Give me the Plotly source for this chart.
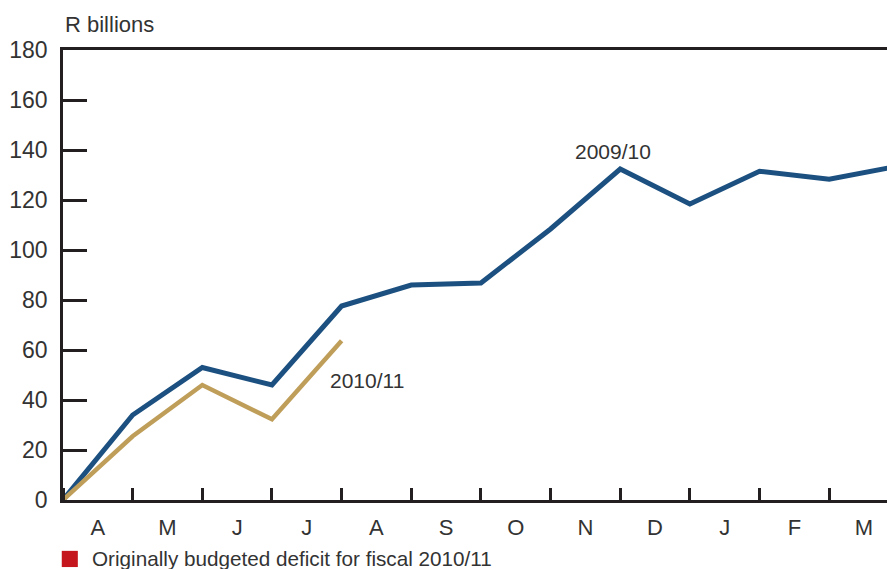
import plotly.graph_objects as go

MONTHS = ["A", "M", "J", "J", "A", "S", "O", "N", "D", "J", "F", "M"]
POSITIONS = list(range(13))
DEFICIT_2009 = [0, 34, 53, 46, 77.6, 86, 86.8, 108.4, 132.4, 118.4, 131.5, 128.3, 133.6]
DEFICIT_2010 = [0, 25.5, 46, 32.3, 63.7]
Y_TICKS = [0, 20, 40, 60, 80, 100, 120, 140, 160, 180]
LEGEND_LABEL = "Originally budgeted deficit for fiscal 2010/11"

BLUE = "#1c5080"
GOLD = "#bf9e5a"
RED = "#c4161c"
INK = "#231f20"
TEXT = "#333333"
FONT = "Liberation Sans"

fig = go.Figure()
fig.add_trace(
    go.Scatter(
        x=POSITIONS,
        y=DEFICIT_2009,
        mode="lines",
        line=dict(color=BLUE, width=5),
        showlegend=False,
    )
)
fig.add_trace(
    go.Scatter(
        x=POSITIONS[: len(DEFICIT_2010)],
        y=DEFICIT_2010,
        mode="lines",
        line=dict(color=GOLD, width=4.5),
        showlegend=False,
    )
)

fig.add_annotation(x=7.9, y=139.5, text="2009/10", showarrow=False,
                   font=dict(size=21, color=TEXT, family=FONT))
fig.add_annotation(x=4.36, y=48, text="2010/11", showarrow=False,
                   font=dict(size=21, color=TEXT, family=FONT))
fig.add_annotation(x=0, y=1.056, xref="paper", yref="paper",
                   xanchor="left", yanchor="middle",
                   text="R billions", showarrow=False,
                   font=dict(size=22, color=TEXT, family=FONT))

# legend key below the axis
fig.add_shape(type="rect", xref="paper", yref="paper",
              x0=-0.0015, x1=0.018, y0=-0.149, y1=-0.113,
              fillcolor=RED, line_width=0)
fig.add_annotation(x=0.0328, y=-0.131, xref="paper", yref="paper",
                   xanchor="left", yanchor="middle", text=LEGEND_LABEL,
                   showarrow=False, font=dict(size=20.7, color=TEXT, family=FONT))

fig.update_layout(
    width=887,
    height=569,
    margin=dict(l=63, r=0, t=50, b=69),
    plot_bgcolor="white",
    paper_bgcolor="white",
    font=dict(family=FONT, size=22, color=TEXT),
    showlegend=False,
)
fig.update_xaxes(
    range=[0, 11.83],
    tickvals=[p + 0.5 for p in POSITIONS[:12]],
    ticktext=MONTHS,
    ticks="",
    ticklabelstandoff=6,
    tickfont=dict(size=22),
    minor=dict(tickvals=POSITIONS, ticks="inside", ticklen=12, tickwidth=2.5, tickcolor=INK),
    showline=True,
    linecolor=INK,
    linewidth=2.5,
    mirror=True,
    showgrid=False,
    zeroline=False,
    automargin=False,
)
fig.update_yaxes(
    range=[0, 180],
    tickvals=Y_TICKS,
    ticks="inside",
    ticklen=24,
    tickwidth=2.5,
    tickcolor=INK,
    ticklabelstandoff=8,
    tickfont=dict(size=23),
    showline=True,
    linecolor=INK,
    linewidth=2.5,
    showgrid=False,
    zeroline=False,
    automargin=False,
)

# page body has a default margin; drop it so the figure sits at the top-left corner
fig.write_html(
    "out.html",
    config={"displayModeBar": False},
    post_script="document.body.style.margin='0';",
)
